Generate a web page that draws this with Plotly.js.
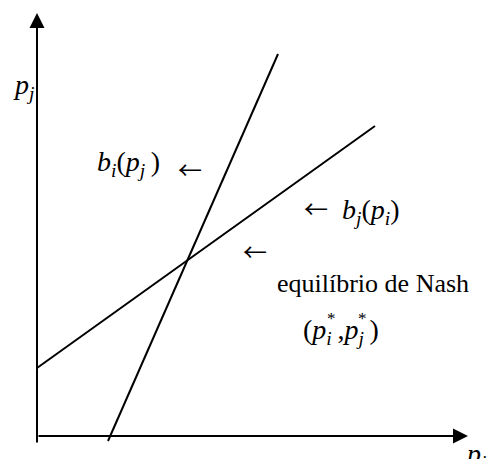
<!DOCTYPE html>
<html>
<head>
<meta charset="utf-8">
<script src="https://cdn.plot.ly/plotly-3.0.1.min.js"></script>
<style>html,body{margin:0;padding:0;background:#fff;}#chart{width:487px;height:459px;}</style>
</head>
<body>
<div id="chart"></div>
<script>
// Reaction (best-response) lines, in arbitrary price units
const bjX = [0, 338];   // b_j(p_i): shallow line
const bjY = [68, 310];
const biX = [71, 241];  // b_i(p_j): steep line
const biY = [-5, 382];

// Text labels
const TS = '\u2009';
const labelPj = '<i>p</i><sub><i>j</i></sub>';
const labelPi = '<i>p</i><sub><i>i</i></sub>';
const labelBi = '<i>b</i><sub><i>i</i></sub>(<i>p</i><sub><i>j</i></sub>' + TS + ')';
const labelBj = '<i>b</i><sub><i>j</i></sub>(<i>p</i><sub><i>i</i></sub>)';
const labelNash = 'equilíbrio de Nash';
const labelStar = '(<i>p</i><sub><i>i</i></sub>' + TS + ',<i>p</i><sub><i>j</i></sub>' + TS + ')';
const arrowGlyph = '\u2190';

const FONT = 'Liberation Serif, Times New Roman, serif';
const ARROWFONT = 'Noto Sans CJK JP, DejaVu Sans, sans-serif';
const f = (s, fam) => ({family: fam || FONT, size: s, color: '#000'});

const lineStyle = {color: '#000', width: 2};
const traces = [
  {x: bjX, y: bjY, mode: 'lines', line: lineStyle, hoverinfo: 'skip'},
  {x: biX, y: biY, mode: 'lines', line: lineStyle, hoverinfo: 'skip'}
];

function txt(text, x, y, size, xanchor, fam) {
  return {text: text, x: x, y: y, xref: 'x', yref: 'y', showarrow: false,
          xanchor: xanchor || 'left', yanchor: 'middle', font: f(size, fam)};
}
function axArrow(x, y, ax, ay) {
  return {text: '', x: x, y: y, ax: ax, ay: ay, xref: 'x', yref: 'y',
          axref: 'x', ayref: 'y', showarrow: true, arrowhead: 2,
          arrowsize: 1.5, arrowwidth: 2, arrowcolor: '#000', standoff: 0};
}

const annotations = [
  axArrow(0, 423, 0, -8),
  axArrow(431, 0, 0, 0),
  txt(labelPj, -26, 350, 28),
  txt(labelPi, 426, -19, 28),
  txt(labelBi, 58, 273, 28),
  txt(arrowGlyph, 153, 268, 24, 'center', ARROWFONT),
  txt(arrowGlyph, 279, 229, 24, 'center', ARROWFONT),
  txt(labelBj, 303, 225, 28),
  txt(arrowGlyph, 218, 186, 24, 'center', ARROWFONT),
  txt(labelNash, 238, 153, 26),
  txt(labelStar, 264, 105, 28),
  txt('*', 294, 118, 17, 'center'),
  txt('*', 325, 118, 17, 'center')
];

const layout = {
  width: 487, height: 459,
  margin: {l: 0, r: 0, t: 0, b: 0, pad: 0},
  paper_bgcolor: '#fff', plot_bgcolor: '#fff',
  showlegend: false,
  xaxis: {range: [-37, 450], visible: false, fixedrange: true},
  yaxis: {range: [-23, 436], visible: false, fixedrange: true},
  annotations: annotations
};

Plotly.newPlot('chart', traces, layout, {staticPlot: true, displayModeBar: false});
</script>
</body>
</html>
